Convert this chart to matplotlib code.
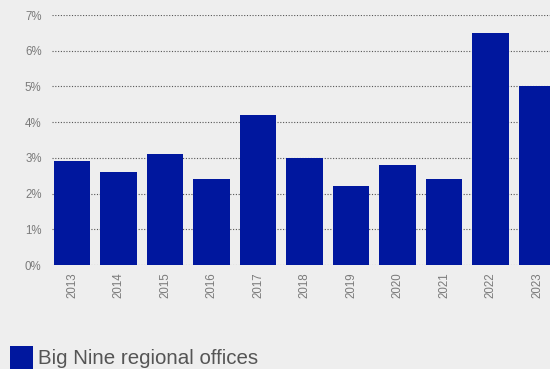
import matplotlib as mpl; mpl.use('Agg')
import matplotlib.pyplot as plt
from matplotlib.patches import Rectangle
from matplotlib.ticker import FuncFormatter

mpl.rcParams.update({'font.family': ['Liberation Sans', 'DejaVu Sans']})

BG = '#eeeeee'; BAR = '#00179e'; TXT = '#7a7a7a'

years = ['2013', '2014', '2015', '2016', '2017', '2018', '2019', '2020', '2021', '2022', '2023']
growth = [2.9, 2.6, 3.1, 2.4, 4.2, 3.0, 2.2, 2.8, 2.4, 6.5, 5.0]
series_name = 'Big Nine regional offices'

W, H = 550, 369
fig = plt.figure(figsize=(W/100, H/100), dpi=100, facecolor=BG)
ax = fig.add_axes([52/W, 1-265/H, 1-52/W, 250/H], facecolor=BG)

x = range(len(years))
ax.bar(x, growth, width=0.78, color=BAR, zorder=2)
ax.set_xlim(-0.43, 10.28)
ax.set_ylim(0, 7)
ax.set_yticks(range(0, 8))
ax.yaxis.set_major_formatter(FuncFormatter(lambda v, _: f'{int(v)}%'))
ax.set_xticks(list(x))
ax.set_xticklabels(years, rotation=90)
ax.grid(axis='y', color='#555555', ls=(0, (1, 1.5)), lw=0.8, zorder=1)
for s in ax.spines.values():
    s.set_visible(False)
ax.tick_params(axis='both', length=0, colors=TXT, labelsize=8.3)
ax.tick_params(axis='y', pad=7.5)
ax.tick_params(axis='x', pad=5)

# legend key drawn in figure pixels along the bottom edge
fig.add_artist(Rectangle((10/W, 0), 23/W, 23/H, transform=fig.transFigure,
                         facecolor=BAR, edgecolor='none'))
fig.text(38/W, 5/H, series_name, fontsize=14.8, color='#555555',
         ha='left', va='baseline')

fig.savefig('out.png', dpi=100, facecolor=BG)
